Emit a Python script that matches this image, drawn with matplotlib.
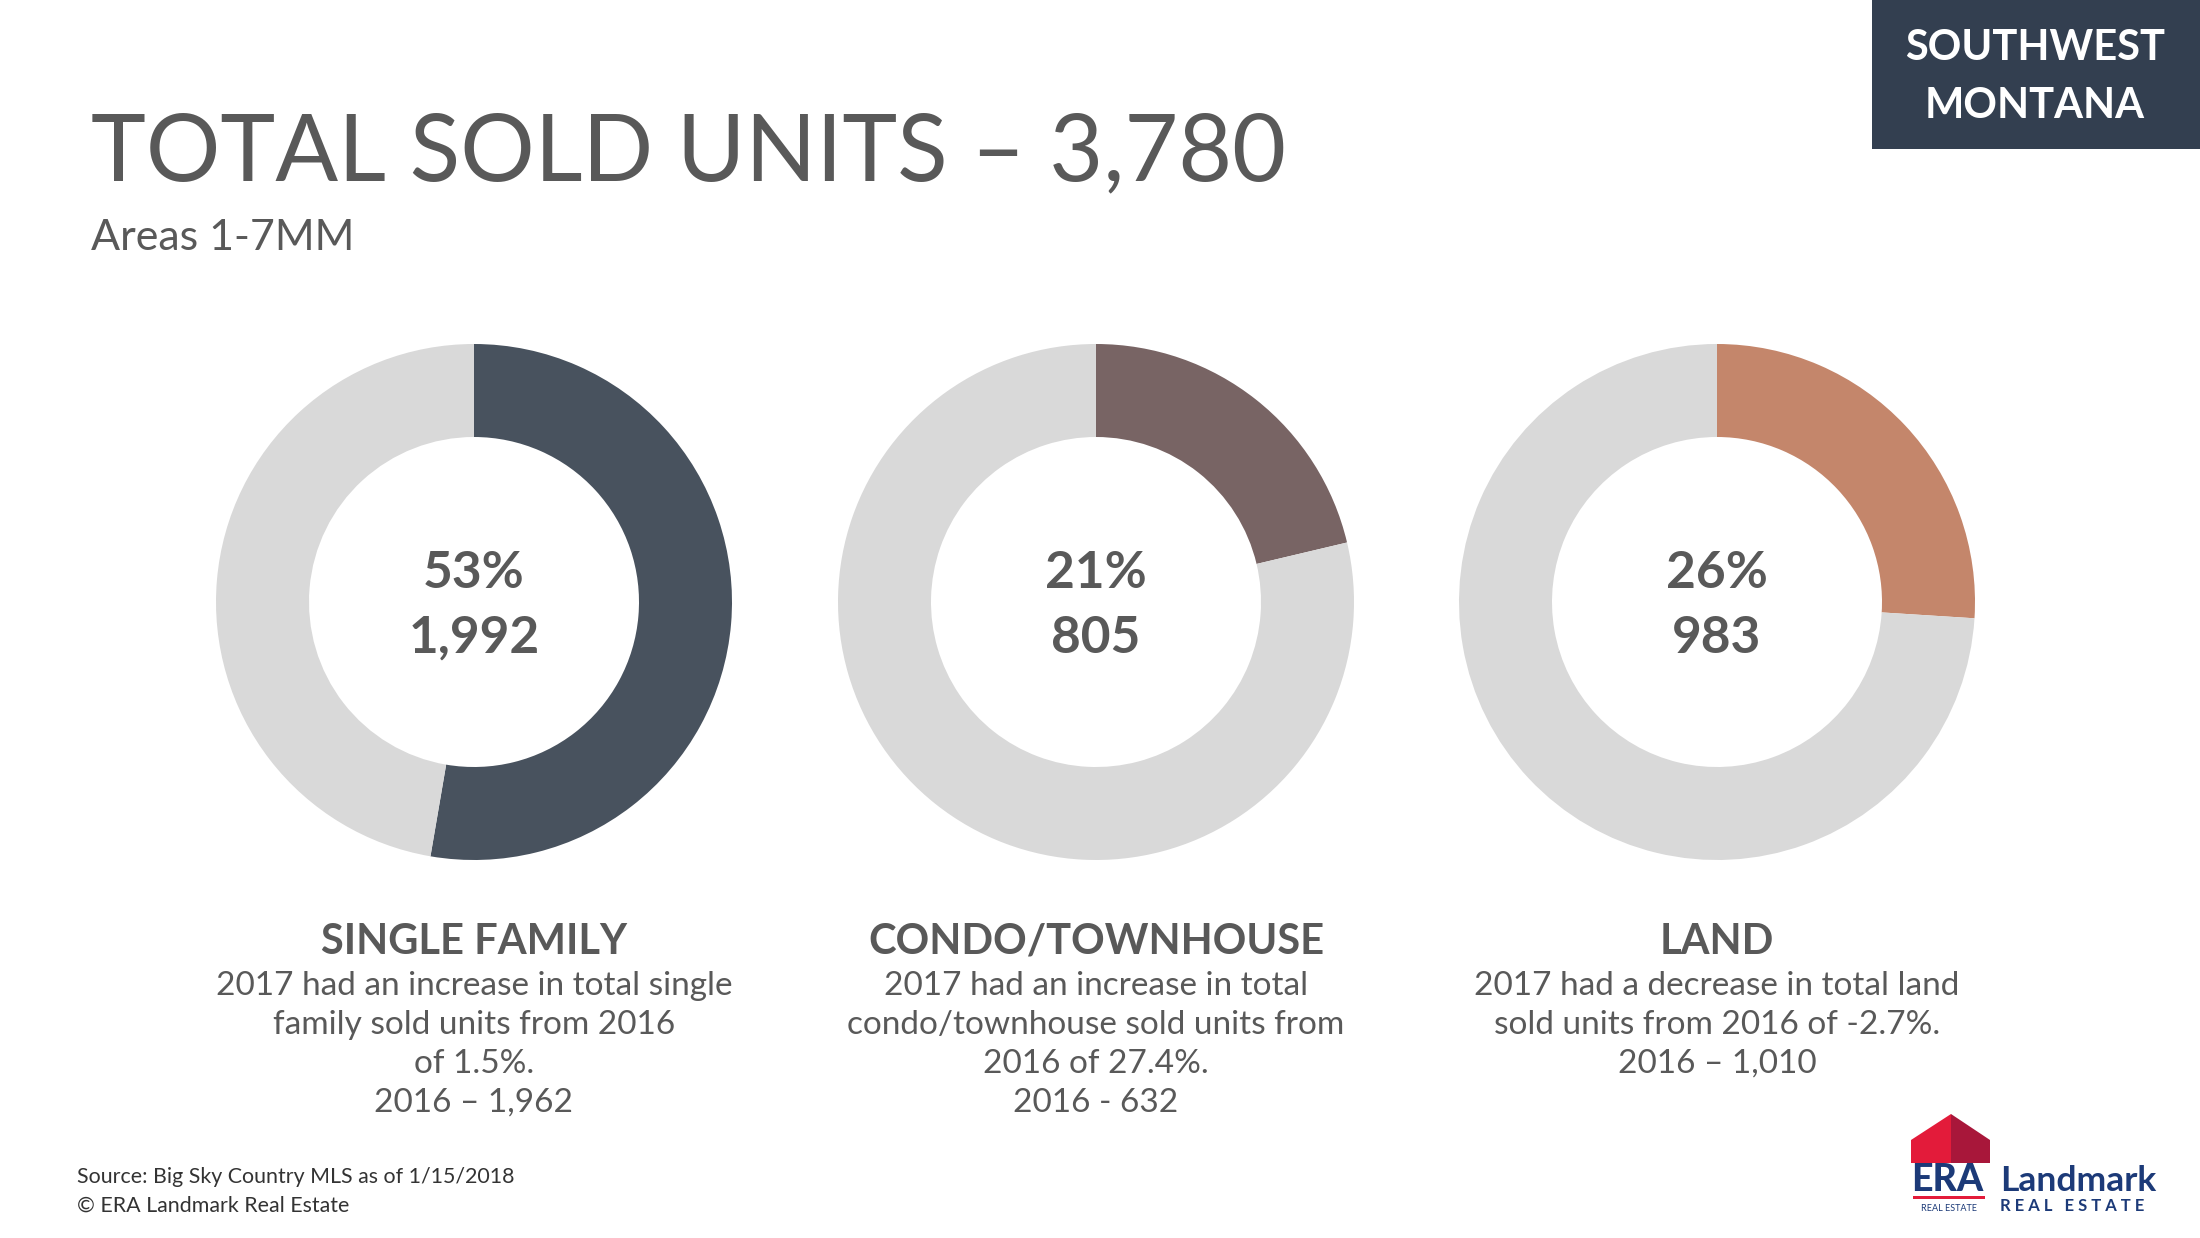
import matplotlib
matplotlib.use("Agg")
from matplotlib import pyplot as plt
from matplotlib.patches import Rectangle, Polygon

# data
categories = ["SINGLE FAMILY", "CONDO/TOWNHOUSE", "LAND"]
sold_units = [1992, 805, 983]
total_units = 3780
pct_labels = ["53%", "21%", "26%"]
unit_labels = ["1,992", "805", "983"]
descriptions = [
    ["2017 had an increase in total single", "family sold units from 2016", "of 1.5%.", "2016 \u2013 1,962"],
    ["2017 had an increase in total", "condo/townhouse sold units from", "2016 of 27.4%.", "2016 - 632"],
    ["2017 had a decrease in total land", "sold units from 2016 of -2.7%.", "2016 \u2013 1,010"],
]
slice_colors = ["#48525e", "#786464", "#c4866b"]
rest_color = "#d9d9d9"
text_grey = "#595959"

W, H = 2200, 1238
FONT = "Lato"

fig = plt.figure(figsize=(W / 100, H / 100), dpi=100, facecolor="white")
ax = fig.add_axes([0, 0, 1, 1])

def Y(y):
    # pixel rows measured from top
    return H - y

centers_x = [474, 1096, 1717]
center_y = 602
R_out, R_in = 258, 165

for i, cx in enumerate(centers_x):
    ax.pie([sold_units[i], total_units - sold_units[i]], colors=[slice_colors[i], rest_color],
           startangle=90, counterclock=False, center=(cx, Y(center_y)), radius=R_out,
           wedgeprops=dict(width=R_out - R_in, linewidth=0), frame=True)
    ax.text(cx, Y(588), pct_labels[i], ha="center", va="baseline", fontsize=37,
            fontweight="bold", color=text_grey, family=FONT)
    ax.text(cx, Y(653), unit_labels[i], ha="center", va="baseline", fontsize=37,
            fontweight="bold", color=text_grey, family=FONT)
    ax.text(cx, Y(954), categories[i], ha="center", va="baseline", fontsize=30,
            fontweight="bold", color=text_grey, family=FONT)
    for j, line in enumerate(descriptions[i]):
        ax.text(cx, Y(995 + 39 * j), line, ha="center", va="baseline", fontsize=24,
                fontweight="normal", color=text_grey, family=FONT)

ax.set_xlim(0, W)
ax.set_ylim(0, H)
ax.set_aspect("auto")
ax.axis("off")

# title block
ax.text(91, Y(180), "TOTAL SOLD UNITS \u2013 3,780", ha="left", va="baseline", fontsize=67,
        color=text_grey, family=FONT)
ax.text(91, Y(250), "Areas 1-7MM", ha="left", va="baseline", fontsize=31,
        color=text_grey, family=FONT)

# region badge
ax.add_patch(Rectangle((1872, Y(149)), W - 1872, 149, color="#333f50", lw=0))
ax.text(2035, Y(60), "SOUTHWEST", ha="center", va="baseline", fontsize=30,
        fontweight="bold", color="white", family=FONT)
ax.text(2035, Y(118), "MONTANA", ha="center", va="baseline", fontsize=30,
        fontweight="bold", color="white", family=FONT)

# source
ax.text(77, Y(1183), "Source: Big Sky Country MLS as of 1/15/2018", ha="left", va="baseline",
        fontsize=15.4, color="#333333", family=FONT)
ax.text(77, Y(1212), "\u00a9 ERA Landmark Real Estate", ha="left", va="baseline",
        fontsize=15.4, color="#333333", family=FONT)

# logo
navy = "#1c3a78"
ax.add_patch(Polygon([(1911, Y(1163)), (1911, Y(1140)), (1951, Y(1114)), (1951, Y(1163))],
                     closed=True, color="#e31b3a", lw=0))
ax.add_patch(Polygon([(1951, Y(1163)), (1951, Y(1114)), (1990, Y(1140)), (1990, Y(1163))],
                     closed=True, color="#a8173a", lw=0))
ax.text(1911, Y(1191), "ERA", ha="left", va="baseline", fontsize=27, fontweight="black",
        color=navy, family=FONT)
ax.add_patch(Rectangle((1913, Y(1199)), 72, 3, color="#e31b3a", lw=0))
ax.text(1949, Y(1211), "REAL ESTATE", ha="center", va="baseline", fontsize=6.5,
        color=navy, family=FONT)
ax.text(2000, Y(1191), "Landmark", ha="left", va="baseline", fontsize=25.5, fontweight="bold",
        color=navy, family=FONT)
ax.text(2000, Y(1211), "R E A L   E S T A T E", ha="left", va="baseline", fontsize=12,
        fontweight="bold", color=navy, family=FONT)

fig.savefig("out.png", dpi=100, facecolor="white")
